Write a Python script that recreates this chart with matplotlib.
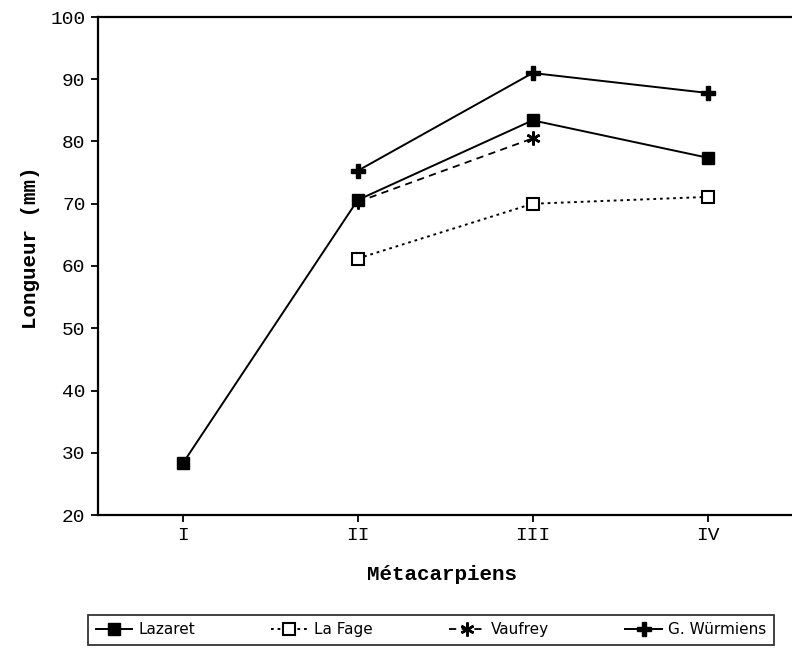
import matplotlib

matplotlib.use("Agg")
import matplotlib.pyplot as plt

categories = ["I", "II", "III", "IV"]
x_pos = [1, 2, 3, 4]

lazaret = [28.3, 70.6, 83.4, 77.4]
la_fage_x = [2, 3, 4]
la_fage = [61.2, 70.0, 71.1]
vaufrey_x = [2, 3]
vaufrey = [70.3, 80.5]
wurmiens_x = [2, 3, 4]
wurmiens = [75.3, 91.0, 87.8]

MONO = "Liberation Mono"
W, H = 792, 655

fig = plt.figure(figsize=(W / 100, H / 100), dpi=100)
# axes box: left spine at x=98, top at y=17, bottom at y=515 (right edge runs off the page)
ax = fig.add_axes([98 / W, 1 - 515 / H, 697 / W, (515 - 17) / H])

ax.plot(x_pos, lazaret, color="black", lw=1.4, marker="s", ms=9,
        mfc="black", mec="black", label="Lazaret")
ax.plot(la_fage_x, la_fage, color="black", lw=1.4, ls=(0, (1.4, 2.0)),
        marker="s", ms=8.5, mfc="white", mec="black", mew=1.5, label="La Fage")
ax.plot(vaufrey_x, vaufrey, color="black", lw=1.3, ls=(0, (4, 3)),
        marker=(6, 2, 0), ms=10, mec="black", mew=1.8, label="Vaufrey")
ax.plot(wurmiens_x, wurmiens, color="black", lw=1.4, marker="P", ms=10,
        mfc="black", mec="black", label="G. Würmiens")

ax.set_xlim(0.515, 4.5)
ax.set_ylim(20, 100)
ax.set_xticks(x_pos)
ax.set_xticklabels(categories, fontfamily=MONO, fontsize=14)
ax.set_yticks(range(20, 101, 10))
ax.set_yticklabels([str(v) for v in range(20, 101, 10)], fontfamily=MONO, fontsize=14)
ax.tick_params(direction="out", length=5, width=1.3, color="black", pad=4)
for side in ["left", "bottom", "top"]:
    ax.spines[side].set_linewidth(1.6)
ax.spines["right"].set_visible(False)

ax.set_xlabel("Métacarpiens", fontfamily=MONO, fontsize=15, fontweight="bold", va="center")
ax.xaxis.set_label_coords((442 - 98) / 697, -(575 - 515) / 498)
ax.set_ylabel("Longueur (mm)", fontfamily=MONO, fontsize=15, fontweight="bold", va="center")
ax.yaxis.set_label_coords(-(98 - 31) / 697, (515 - 248) / 498)

leg = fig.legend(loc="lower left", bbox_to_anchor=(88 / W, 10 / H, 686 / W, 36 / H),
                 mode="expand", ncol=4, frameon=True, fancybox=False,
                 prop={"family": "DejaVu Sans", "size": 11}, handlelength=2.4,
                 borderaxespad=0, handletextpad=0.4, borderpad=0.5)
leg.get_frame().set_edgecolor("black")
leg.get_frame().set_linewidth(1.3)

fig.savefig("out.png", dpi=100)
